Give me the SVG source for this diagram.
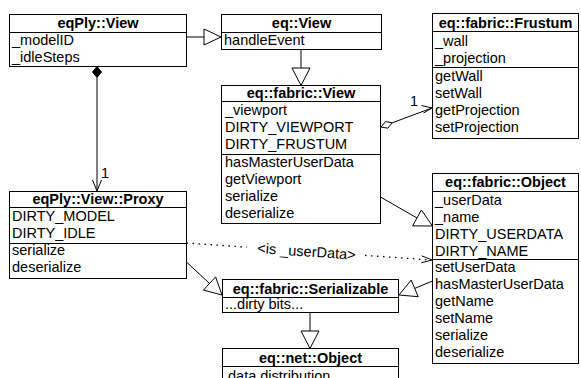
<svg xmlns="http://www.w3.org/2000/svg" width="581" height="378" viewBox="0 0 581 378">
<style>
.box{fill:#fff;stroke:#000;stroke-width:1}
.sep{stroke:#000;stroke-width:1}
.t{font-family:"Liberation Sans",Arial,Helvetica,sans-serif;font-size:14.5px;fill:#000}
.h{font-weight:bold;text-anchor:middle}
.ln{stroke:#000;stroke-width:1;fill:none}
.dot{stroke:#000;stroke-width:1.3;fill:none;stroke-dasharray:1.5 4.5}
.tri{fill:#fff;stroke:#000;stroke-width:1}
.dia{fill:#000;stroke:#000;stroke-width:1}
.odia{fill:#fff;stroke:#000;stroke-width:1}
</style>
<rect width="581" height="378" fill="#fff"/>
<g id="connectors">
  <line class="ln" x1="186.5" y1="37" x2="204" y2="37"/>
  <polygon class="tri" points="221,37 204,29 204,45"/>
  <line class="ln" x1="301" y1="49.5" x2="301" y2="68"/>
  <polygon class="tri" points="292,68 310,68 301,85.5"/>
  <line class="ln" x1="380.5" y1="197" x2="417" y2="218"/>
  <polygon class="tri" points="432.5,226 412.6,225.9 421.4,210"/>
  <line class="ln" x1="186.5" y1="262" x2="209.5" y2="283.5"/>
  <polygon class="tri" points="222,295 203.4,290.1 215.6,276.9"/>
  <line class="ln" x1="432.5" y1="281" x2="414.7" y2="288.4"/>
  <polygon class="tri" points="399,295 418.2,296.7 411.2,280.1"/>
  <line class="ln" x1="310" y1="312.5" x2="310" y2="331"/>
  <polygon class="tri" points="301,331 319,331 310,348.5"/>
  <polygon class="odia" points="381,127 387.8,128.2 392.2,122.8 385.4,121.6"/>
  <line class="ln" x1="392.2" y1="122.8" x2="432" y2="108"/>
  <polyline class="ln" points="421.5,105.5 432,108 423.5,113"/>
  <text class="t" x="410" y="106">1</text>
  <polygon class="dia" points="97,66.5 101.5,72 97,77.5 92.5,72"/>
  <line class="ln" x1="97" y1="77.5" x2="97" y2="191"/>
  <polyline class="ln" points="92.5,180 97,191 101.5,180"/>
  <text class="t" x="101" y="178">1</text>
  <line class="dot" x1="186.5" y1="243" x2="247" y2="247.2"/>
  <line class="dot" x1="365" y1="255.4" x2="430" y2="259.9"/>
  <polyline class="ln" points="421.7,255.8 432,260 421.3,262.8"/>
  <text class="t" transform="translate(306.5,251.4) rotate(3.95)" x="0" y="5" text-anchor="middle">&lt;is _userData&gt;</text>
</g>
<g id="eqPlyView">
  <rect class="box" x="9.5" y="14.5" width="177" height="52"/>
  <line class="sep" x1="9.5" y1="32.5" x2="186.5" y2="32.5"/>
  <text class="t h" x="98" y="28">eqPly::View</text>
  <text class="t" x="12" y="45">_modelID</text>
  <text class="t" x="12" y="62">_idleSteps</text>
</g>
<g id="eqView">
  <rect class="box" x="221.5" y="14.5" width="160" height="35"/>
  <line class="sep" x1="221.5" y1="32.5" x2="381.5" y2="32.5"/>
  <text class="t h" x="301.5" y="28">eq::View</text>
  <text class="t" x="224" y="45">handleEvent</text>
</g>
<g id="fabricFrustum">
  <rect class="box" x="432.5" y="13.5" width="146" height="125"/>
  <line class="sep" x1="432.5" y1="31.5" x2="578.5" y2="31.5"/>
  <line class="sep" x1="432.5" y1="67.5" x2="578.5" y2="67.5"/>
  <text class="t h" x="505.5" y="28">eq::fabric::Frustum</text>
  <text class="t" x="435" y="46">_wall</text>
  <text class="t" x="435" y="63">_projection</text>
  <text class="t" x="435" y="81">getWall</text>
  <text class="t" x="435" y="98">setWall</text>
  <text class="t" x="435" y="115">getProjection</text>
  <text class="t" x="435" y="132">setProjection</text>
</g>
<g id="fabricView">
  <rect class="box" x="221.5" y="85.5" width="159" height="138"/>
  <line class="sep" x1="221.5" y1="101.5" x2="380.5" y2="101.5"/>
  <line class="sep" x1="221.5" y1="154.5" x2="380.5" y2="154.5"/>
  <text class="t h" x="301" y="98">eq::fabric::View</text>
  <text class="t" x="225" y="115">_viewport</text>
  <text class="t" x="225" y="132">DIRTY_VIEWPORT</text>
  <text class="t" x="225" y="149">DIRTY_FRUSTUM</text>
  <text class="t" x="225" y="167">hasMasterUserData</text>
  <text class="t" x="225" y="184">getViewport</text>
  <text class="t" x="225" y="201">serialize</text>
  <text class="t" x="225" y="218">deserialize</text>
</g>
<g id="eqPlyViewProxy">
  <rect class="box" x="9.5" y="191.5" width="177" height="87"/>
  <line class="sep" x1="9.5" y1="207.5" x2="186.5" y2="207.5"/>
  <line class="sep" x1="9.5" y1="243.5" x2="186.5" y2="243.5"/>
  <text class="t h" x="98" y="204">eqPly::View::Proxy</text>
  <text class="t" x="12" y="221">DIRTY_MODEL</text>
  <text class="t" x="12" y="238">DIRTY_IDLE</text>
  <text class="t" x="12" y="255">serialize</text>
  <text class="t" x="12" y="272">deserialize</text>
</g>
<g id="fabricObject">
  <rect class="box" x="432.5" y="173.5" width="146" height="190"/>
  <line class="sep" x1="432.5" y1="191.5" x2="578.5" y2="191.5"/>
  <line class="sep" x1="432.5" y1="259.5" x2="578.5" y2="259.5"/>
  <text class="t h" x="505.5" y="187">eq::fabric::Object</text>
  <text class="t" x="435" y="205">_userData</text>
  <text class="t" x="435" y="222">_name</text>
  <text class="t" x="435" y="239">DIRTY_USERDATA</text>
  <text class="t" x="435" y="256">DIRTY_NAME</text>
  <text class="t" x="435" y="272">setUserData</text>
  <text class="t" x="435" y="289">hasMasterUserData</text>
  <text class="t" x="435" y="306">getName</text>
  <text class="t" x="435" y="323">setName</text>
  <text class="t" x="435" y="340">serialize</text>
  <text class="t" x="435" y="357">deserialize</text>
</g>
<g id="fabricSerializable">
  <rect class="box" x="222.5" y="279.5" width="176" height="33"/>
  <line class="sep" x1="222.5" y1="297.5" x2="398.5" y2="297.5"/>
  <text class="t h" x="310.5" y="294">eq::fabric::Serializable</text>
  <text class="t" x="225" y="309">...dirty bits...</text>
</g>
<g id="netObject">
  <rect class="box" x="222.5" y="348.5" width="176" height="40"/>
  <line class="sep" x1="222.5" y1="366.5" x2="398.5" y2="366.5"/>
  <text class="t h" x="310.5" y="363">eq::net::Object</text>
  <text class="t" x="228" y="381">data distribution</text>
</g>
</svg>
